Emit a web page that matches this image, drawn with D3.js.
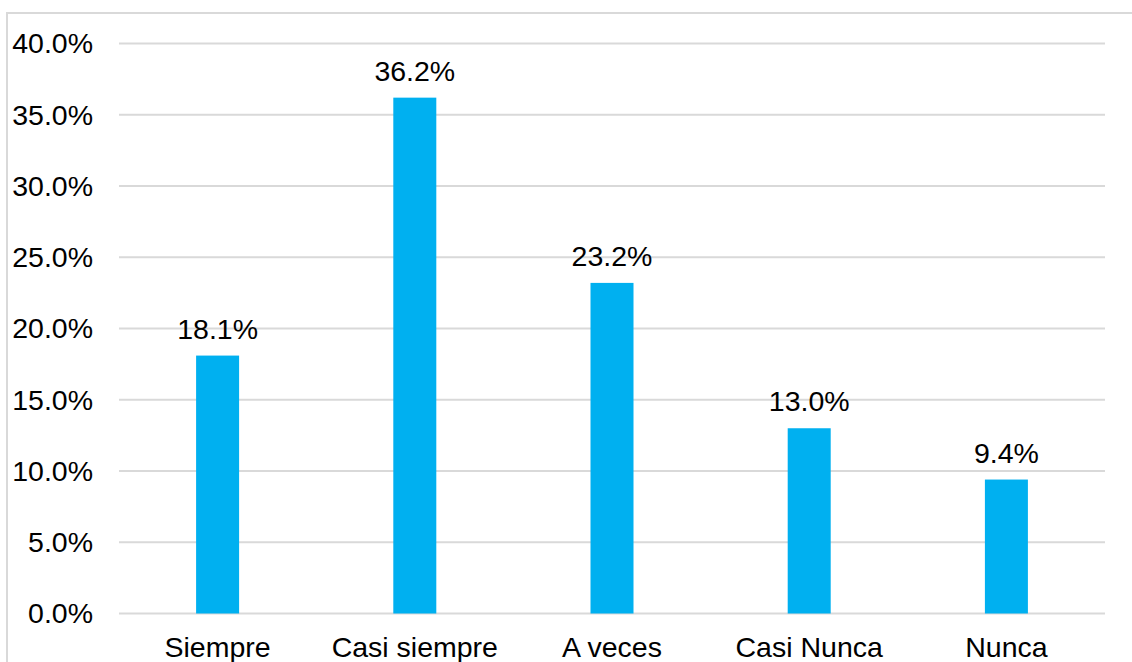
<!DOCTYPE html>
<html>
<head>
<meta charset="utf-8">
<script src="https://cdn.jsdelivr.net/npm/d3@7"></script>
<style>
  html, body { margin: 0; padding: 0; background: #fff; }
  svg { display: block; font-family: "Liberation Sans", Arial, sans-serif; }
</style>
</head>
<body>
<div id="chart"></div>
<script>
// chart data
const categories = ['Siempre', 'Casi siempre', 'A veces', 'Casi Nunca', 'Nunca'];
const values = [18.1, 36.2, 23.2, 13.0, 9.4];
const yTicks = [0, 5, 10, 15, 20, 25, 30, 35, 40];

const width = 1132, height = 662;
const plot = { left: 119, right: 1105, top: 43.5, bottom: 613.5 };

const svg = d3.select('#chart')
  .append('svg')
  .attr('width', width)
  .attr('height', height)
  .attr('viewBox', `0 0 ${width} ${height}`);

// outer frame (only top and left visible in the crop)
svg.append('path')
  .attr('d', `M7,${height} L7,13 L${width},13`)
  .attr('fill', 'none')
  .attr('stroke', '#d9d9d9')
  .attr('stroke-width', 2);

const x = d3.scaleBand()
  .domain(categories)
  .range([plot.left, plot.right]);

const y = d3.scaleLinear()
  .domain([0, 40])
  .range([plot.bottom, plot.top]);

// gridlines
svg.append('g')
  .selectAll('line')
  .data(yTicks)
  .join('line')
  .attr('x1', plot.left)
  .attr('x2', plot.right)
  .attr('y1', d => y(d))
  .attr('y2', d => y(d))
  .attr('stroke', '#d9d9d9')
  .attr('stroke-width', 2);

// y tick labels
svg.append('g')
  .selectAll('text')
  .data(yTicks)
  .join('text')
  .attr('x', 93)
  .attr('y', d => y(d))
  .attr('dy', '0.35em')
  .attr('text-anchor', 'end')
  .attr('font-size', 28.5)
  .attr('fill', '#000')
  .text(d => d.toFixed(1) + '%');

// bars
const barW = 43;
svg.append('g')
  .selectAll('rect')
  .data(values)
  .join('rect')
  .attr('x', (d, i) => x(categories[i]) + x.bandwidth() / 2 - barW / 2)
  .attr('y', d => y(d))
  .attr('width', barW)
  .attr('height', d => y(0) - y(d))
  .attr('fill', '#00b0f0');

// value labels
svg.append('g')
  .selectAll('text')
  .data(values)
  .join('text')
  .attr('x', (d, i) => x(categories[i]) + x.bandwidth() / 2)
  .attr('y', d => y(d) - 17)
  .attr('text-anchor', 'middle')
  .attr('font-size', 28.5)
  .attr('fill', '#000')
  .text(d => d.toFixed(1) + '%');

// category labels
svg.append('g')
  .selectAll('text')
  .data(categories)
  .join('text')
  .attr('x', d => x(d) + x.bandwidth() / 2)
  .attr('y', 657)
  .attr('text-anchor', 'middle')
  .attr('font-size', 28.5)
  .attr('fill', '#000')
  .text(d => d);
</script>
</body>
</html>
